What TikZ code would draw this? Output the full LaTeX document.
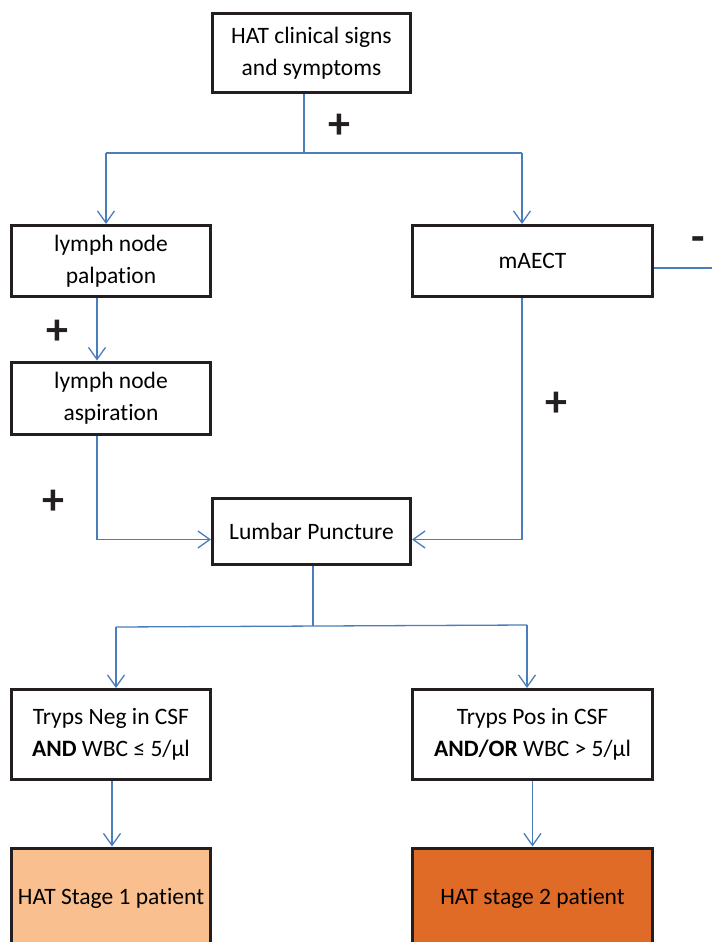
\documentclass[tikz,border=0pt]{standalone}
\usepackage{fontspec}
\setmainfont{Carlito}[RawFeature={-liga;-clig;-dlig;-calt;-rlig}]
\usepackage{tikz}
\usetikzlibrary{arrows.meta, calc}
\definecolor{boxline}{RGB}{35,31,32}
\definecolor{flowblue}{RGB}{74,126,187}
\definecolor{stageone}{RGB}{249,191,143}
\definecolor{stagetwo}{RGB}{224,107,38}
\tikzset{>={Straight Barb[length=12pt,width=17pt]}}
\tikzset{
  box/.style={draw=boxline, line width=3pt, align=center, inner sep=0pt,
    font=\fontsize{23.5}{32}\selectfont},
  flow/.style={flowblue, line width=1.3pt},
  sign/.style={font=\fontsize{44}{44}\selectfont\bfseries, text=boxline}
}

\begin{document}
\begin{tikzpicture}[x=1pt, y=-1pt]
\useasboundingbox (0,0) rectangle (712,942);
% boxes
\node[box, minimum width=198pt, minimum height=79pt] (hat) at (311.5,53) {HAT clinical signs\\and symptoms};
\node[box, minimum width=199pt, minimum height=71pt] (palp) at (111,261) {lymph node\\palpation};
\node[box, minimum width=240pt, minimum height=71pt] (maect) at (532.5,261) {mAECT};
\node[box, minimum width=199pt, minimum height=72pt] (asp) at (111,398) {lymph node\\aspiration};
\node[box, minimum width=198pt, minimum height=66pt] (lumbar) at (311.5,531.5) {Lumbar Puncture};
\node[box, minimum width=199pt, minimum height=90pt] (csfneg) at (111,734.5) {Tryps Neg in CSF\\\textbf{AND} WBC ≤ 5/µl};
\node[box, minimum width=240pt, minimum height=90pt] (csfpos) at (532.5,734.5) {Tryps Pos in CSF\\\textbf{AND/OR} WBC > 5/µl};
\node[box, fill=stageone, minimum width=199pt, minimum height=100pt] (st1) at (111,898) {HAT Stage 1 patient};
\node[box, fill=stagetwo, minimum width=240pt, minimum height=100pt] (st2) at (532.5,898) {HAT stage 2 patient};
% signs
\node[sign] (plustop) at (339,126) {+};
\node[sign] (pluspalp) at (57,332) {+};
\node[sign] (plusasp) at (53,502) {+};
\node[sign] (plusmaect) at (556,404) {+};
\node[sign] (minusmaect) at (698,244) {-};
% connectors
\coordinate (split) at (304,153);
\coordinate (splitL) at (106,153);
\coordinate (splitR) at (522,153);
\coordinate (offpage) at (712,268);
\coordinate (lpsplit) at (313,626);
\coordinate (lpL) at (116,627);
\coordinate (lpR) at (527,625);
\path[flow]
(split |- hat.south) edge (split)
(splitL) edge (splitR)
(maect.east |- offpage) edge (offpage)
(lpsplit |- lumbar.south) edge (lpsplit)
(lpL) edge (lpR);
\path[flow, ->]
(splitL) edge (splitL |- palp.north)
(splitR) edge (splitR |- maect.north)
([xshift=-14pt]palp.south) edge ([xshift=-14pt]asp.north)
(lpL) edge (lpL |- csfneg.north)
(lpR) edge (lpR |- csfpos.north)
([xshift=1pt]csfneg.south) edge ([xshift=1pt]st1.north)
(csfpos.south) edge (st2.north);
\draw[flow, ->] ([xshift=-14pt]asp.south) |- ([yshift=-8pt]lumbar.west);
\draw[flow, ->] ([xshift=-10.5pt]maect.south) |- ([yshift=-8pt]lumbar.east);
\end{tikzpicture}
\end{document}
